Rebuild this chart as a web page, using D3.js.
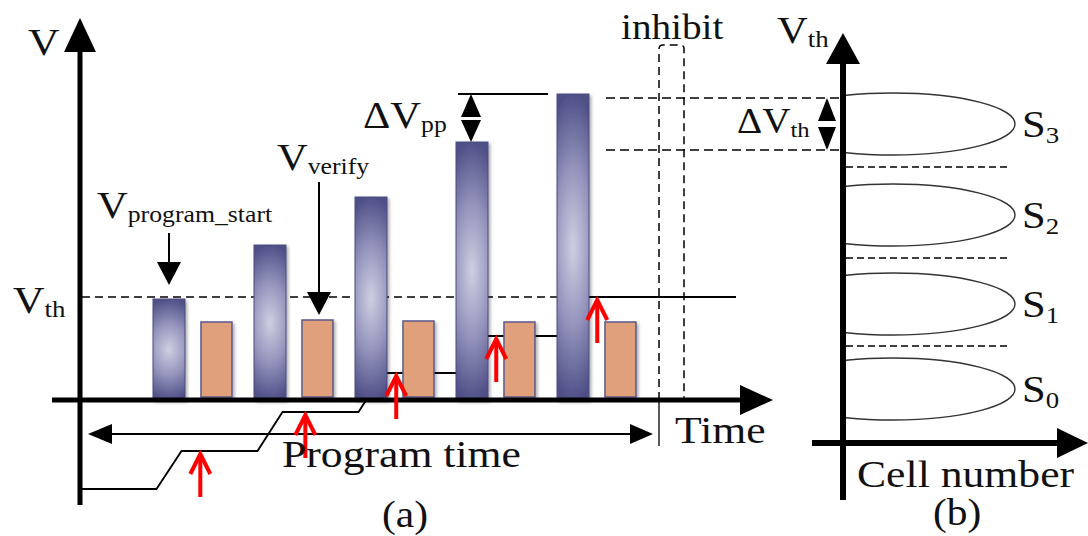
<!DOCTYPE html>
<html><head><meta charset="utf-8">
<script src="https://cdn.jsdelivr.net/npm/d3@7"></script>
<style>html,body{margin:0;padding:0;background:#fff;}svg{display:block;}</style>
</head><body>
<svg id="c" width="1088" height="536"></svg>
<script>
// ---------- data ----------
const pulseIndex = [0, 1, 2, 3, 4];
const programV = [101, 155, 203, 258, 306];      // program pulse amplitudes
const verifyV = [78, 80, 79, 78, 78];            // verify pulse amplitudes
const cellVth = [-89, -51, -12, 27, 64, 103];     // cell threshold staircase levels
const vthLevel = 103;                             // target Vth
const redArrowT = [0.31, 1.35, 2.25, 3.24, 4.24]; // verify-check arrow positions (pulse units)
const states = ["0", "1", "2", "3"];
const stateCenters = [54, 139, 228, 319];          // right panel state Vth centers
const stateSpread = 31;
const stateBounds = [97, 185, 276];
const dVthLevels = [293, 345];

const svg = d3.select("#c");
const FONT = "'Liberation Serif','Times New Roman',serif";

// scales
const xT = d3.scaleLinear().domain([0, 4]).range([169, 573]);
const yV = d3.scaleLinear().domain([0, 380]).range([400, 20]);
const yR = d3.scaleLinear().domain([0, 400]).range([443, 43]);
const xR = d3.scaleLinear().domain([0, 1]).range([893, 1015]);

// defs
const defs = svg.append("defs");
const rg = defs.append("radialGradient").attr("id", "blueGrad")
  .attr("cx", 0.5).attr("cy", 0.5).attr("r", 0.5)
  .attr("gradientTransform", "translate(0.5,0.5) scale(2.2,1) translate(-0.5,-0.5)");
rg.append("stop").attr("offset", "0").attr("stop-color", "#cfcfe2");
rg.append("stop").attr("offset", "0.5").attr("stop-color", "#9696be");
rg.append("stop").attr("offset", "1").attr("stop-color", "#505088");
const f = defs.append("filter").attr("id", "sh").attr("x", "-30%").attr("y", "-10%").attr("width", "160%").attr("height", "130%");
f.append("feDropShadow").attr("dx", 2).attr("dy", 2).attr("stdDeviation", 1.8).attr("flood-color", "#000").attr("flood-opacity", 0.3);
defs.append("clipPath").attr("id", "rclip").append("rect")
  .attr("x", 846).attr("y", 0).attr("width", 300).attr("height", 536);

function label(x, y, main, sub, size, subSize, subDy) {
  const t = svg.append("text")
    .attr("transform", `translate(${x},${y}) scale(1.12,1)`)
    .attr("font-family", FONT).attr("font-size", size).attr("fill", "#111");
  t.append("tspan").text(main);
  if (sub) t.append("tspan").attr("font-size", subSize).attr("dy", subDy).text(sub);
}
function tri(pts, fill) {
  svg.append("path").attr("d", "M" + pts.map(p => p.join(",")).join("L") + "Z").attr("fill", fill || "#000");
}
function line(x1, y1, x2, y2, w, dash, col) {
  const l = svg.append("line").attr("x1", x1).attr("y1", y1).attr("x2", x2).attr("y2", y2)
    .attr("stroke", col || "#000").attr("stroke-width", w);
  if (dash) l.attr("stroke-dasharray", dash);
  return l;
}

// ---------- left panel ----------
line(82, yV(vthLevel), xT(4) + 17, yV(vthLevel), 1.5, "8,5");
dVthLevels.forEach(v => line(606, yR(v), 843, yR(v), 1.5, "9,5"));
svg.append("path")
  .attr("d", `M659,${yV(0)} L659,49 Q659,45 663,45 L680,45 Q684,45 684,49 L684,${yV(0)}`)
  .attr("fill", "none").attr("stroke", "#000").attr("stroke-width", 1.5).attr("stroke-dasharray", "8,5");

// staircase of cell Vth
const stairPts = [[xT.invert(82), cellVth[0]]];
pulseIndex.forEach(i => {
  stairPts.push([i - 0.124, cellVth[i]]);
  stairPts.push([i + 0.124, cellVth[i + 1]]);
});
stairPts.push([xT.invert(736), cellVth[5]]);
svg.append("path")
  .attr("d", d3.line().x(d => xT(d[0])).y(d => yV(d[1]))(stairPts))
  .attr("fill", "none").attr("stroke", "#000").attr("stroke-width", 1.8);

// program pulses
svg.selectAll("rect.prog").data(pulseIndex).join("rect").attr("class", "prog")
  .attr("x", i => xT(i) - 16).attr("width", 32)
  .attr("y", i => yV(programV[i])).attr("height", i => yV(0) - yV(programV[i]))
  .attr("fill", "url(#blueGrad)").attr("stroke", "#4a4a80").attr("stroke-width", 1)
  .attr("filter", "url(#sh)");
// verify pulses
svg.selectAll("rect.ver").data(pulseIndex).join("rect").attr("class", "ver")
  .attr("x", i => xT(i + 0.47) - 15.5).attr("width", 31)
  .attr("y", i => yV(verifyV[i])).attr("height", i => yV(3) - yV(verifyV[i]))
  .attr("fill", "#e0a07c").attr("stroke", "#5a5a8c").attr("stroke-width", 1.5)
  .attr("filter", "url(#sh)");

// axes
line(80, 505, 80, 46, 5);
tri([[80, 18], [64, 52], [96, 52]]);
line(52, yV(0), 745, yV(0), 5);
tri([[773, yV(0)], [740, yV(0) - 15], [740, yV(0) + 15]]);

// program time double arrow
line(105, 434, 636, 434, 2);
tri([[88, 434], [112, 424], [112, 444]]);
tri([[653, 434], [630, 424], [630, 444]]);
line(659, yV(0), 659, 446, 1.3);

// ΔVpp marker
line(458, yV(programV[4]), 548, yV(programV[4]), 1.8);
tri([[471, yV(programV[4])], [461, 117], [481, 117]]);
tri([[471, yV(programV[3])], [461, 120], [481, 120]]);

// down arrows
line(169, 233, 169, 265, 2);
tri([[169, 285], [157, 262], [181, 262]]);
line(319, 182, 319, 295, 2);
tri([[319, yV(verifyV[1]) - 5], [307, 292], [331, 292]]);

// red arrows
redArrowT.forEach((t, i) => {
  const x = xT(t), tip = yV(cellVth[i + 1]) + 2;
  svg.append("path").attr("d", `M${x},${tip + 44} L${x},${tip + 2}`)
    .attr("stroke", "#ff0000").attr("stroke-width", 4).attr("fill", "none");
  svg.append("path").attr("d", `M${x - 10},${tip + 21} L${x},${tip + 1} L${x + 10},${tip + 21}`)
    .attr("stroke", "#ff0000").attr("stroke-width", 4).attr("fill", "none").attr("stroke-linejoin", "miter");
});

// left labels
label(28, 55, "V", null, 39);
label(13, 313, "V", "th", 39, 24, 4);
label(97, 218, "V", "program_start", 38, 23, 4);
label(277, 170, "V", "verify", 38, 23, 4);
label(363, 128, "\u0394V", "pp", 38, 23, 4);
label(621, 39, "inhibit", null, 35);
label(675, 443, "Time", null, 39);
label(282, 467, "Program time", null, 39);
label(382, 527, "(a)", null, 37);

// ---------- right panel ----------
stateBounds.forEach(v => line(846, yR(v), 1010, yR(v), 1.5, "7,4"));
svg.append("g").attr("clip-path", "url(#rclip)")
  .selectAll("ellipse").data(stateCenters).join("ellipse")
  .attr("cx", xR(0)).attr("cy", d => yR(d))
  .attr("rx", xR(1) - xR(0)).attr("ry", yR(0) - yR(stateSpread))
  .attr("fill", "none").attr("stroke", "#333").attr("stroke-width", 1.4);

line(843, 500, 843, 60, 6);
tri([[843, 33], [826, 64], [860, 64]]);
line(812, yR(0), 1060, yR(0), 6);
tri([[1088, yR(0)], [1057, yR(0) - 15], [1057, yR(0) + 15]]);

// ΔVth marker
tri([[827, yR(dVthLevels[1])], [818, 121], [836, 121]]);
tri([[827, yR(dVthLevels[0])], [818, 127], [836, 127]]);

label(777, 43, "V", "th", 38, 24, 4);
label(737, 133, "\u0394V", "th", 35, 22, 4);
stateCenters.forEach((c, i) => {
  label(1022, yR(c) + 13, "S", states[i], 38, 24, 6);
});
label(857, 487, "Cell number", null, 39);
label(933, 525, "(b)", null, 37);
</script>
</body></html>
